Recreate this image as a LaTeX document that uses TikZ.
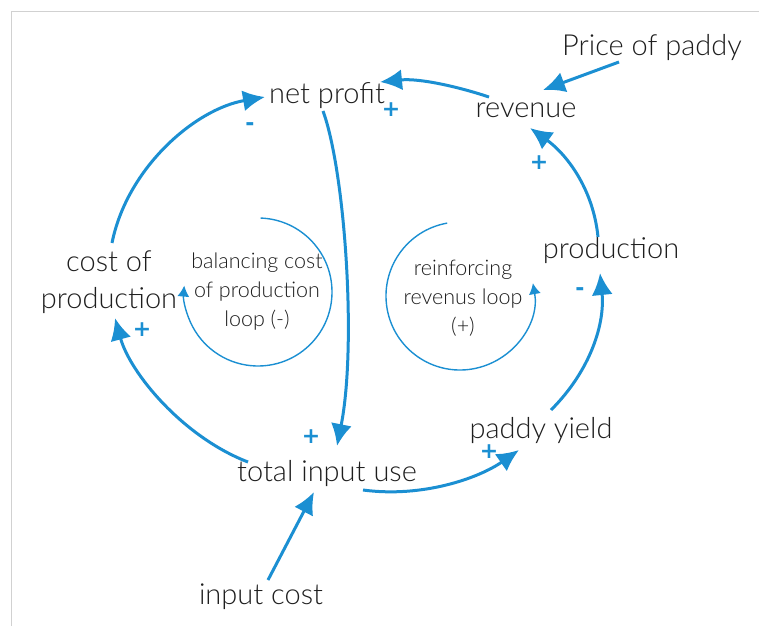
\documentclass[tikz,border=0pt]{standalone}
\usepackage{fontspec}
\setmainfont{Lato Light}
\newfontfamily\signfont{DejaVu Sans}
\usetikzlibrary{arrows.meta}
\definecolor{cldblue}{HTML}{1B8FD2}
\definecolor{txt}{HTML}{1E1E1E}
\tikzset{
  lab/.style={inner sep=0pt, text=txt, font=\fontsize{29}{37}\selectfont, align=center},
  looplab/.style={inner sep=0pt, text=txt, font=\fontsize{21.5}{29}\selectfont, align=center},
  link/.style={draw=cldblue, line width=3pt, -{Latex[length=22pt,width=21pt]}},
  looparc/.style={draw=cldblue, line width=1.4pt, -{Latex[length=11pt,width=12pt]}},
  sign/.style={inner sep=0pt, text=cldblue, font=\signfont\bfseries\fontsize{22}{22}\selectfont},
}
\begin{document}
\begin{tikzpicture}[x=1pt,y=-1pt]
\useasboundingbox (0,0) rectangle (759,626);
\draw[black!18, line width=1pt] (11,626) -- (11,12) -- (759,12);

\node[lab] (price) at (652,48) {Price of paddy};
\node[lab] (rev) at (526,110) {revenue};
\node[lab] (np) at (327,96) {net profit};
\node[lab] (prod) at (611,250) {production};
\node[lab] (cop) at (109,282) {cost of\\production};
\node[lab] (tiu) at (327,473) {total input use};
\node[lab] (py) at (541,430) {paddy yield};
\node[lab] (ic) at (261,597) {input cost};
\node[looplab] (bal) at (257,292) {balancing cost\\of production\\loop (-)};
\node[looplab] (rein) at (463,298) {reinforcing\\revenus loop\\(+)};

% loop arcs
\draw[looparc] ([shift={(-88:74)}]bal.center) ++(1,0) arc[start angle=-88, end angle=185, radius=74];
\draw[looparc] ([shift={(-100:74)}]rein.center) ++(-3,-2) arc[start angle=-100, end angle=-370, radius=74];

% links
\draw[link] ([shift={(3,-39)}]cop.center) .. controls +(15,-75) and +(-70,12) .. ([shift={(-62,1)}]np.center);
\draw[link] ([shift={(-4,15)}]np.center) .. controls +(22,60) and +(20,-100) .. ([shift={(10,-27)}]tiu.center);
\draw[link] ([shift={(-37,-13)}]rev.center) .. controls +(-30,-10) and +(40,-4) .. ([shift={(53,-14)}]np.center);
\draw[link] ([shift={(-33,14)}]price.center) -- ([shift={(17,-20)}]rev.center);
\draw[link] ([shift={(-13,-13)}]prod.center) .. controls +(-5,-50) and +(35,25) .. ([shift={(4,18)}]rev.center);
\draw[link] ([shift={(10,-20)}]py.center) .. controls +(40,-40) and +(5,50) .. ([shift={(-11,23)}]prod.center);
\draw[link] ([shift={(36,17)}]tiu.center) .. controls +(60,8) and +(-40,28) .. ([shift={(-22,20)}]py.center);
\draw[link] ([shift={(-79,-11)}]tiu.center) .. controls +(-65,-25) and +(15,55) .. ([shift={(6,36)}]cop.center);
\draw[link] ([shift={(7,-17)}]ic.center) -- ([shift={(-13,19)}]tiu.center);

% polarity signs
\node[sign] (s1) at (250,127) {-};
\node[sign] (s2) at (311,437) {+};
\node[sign] (s3) at (391,110) {+};
\node[sign] (s4) at (539,163) {+};
\node[sign] (s5) at (580,292) {-};
\node[sign] (s6) at (489,452) {+};
\node[sign] (s7) at (142,330) {+};
\end{tikzpicture}
\end{document}
